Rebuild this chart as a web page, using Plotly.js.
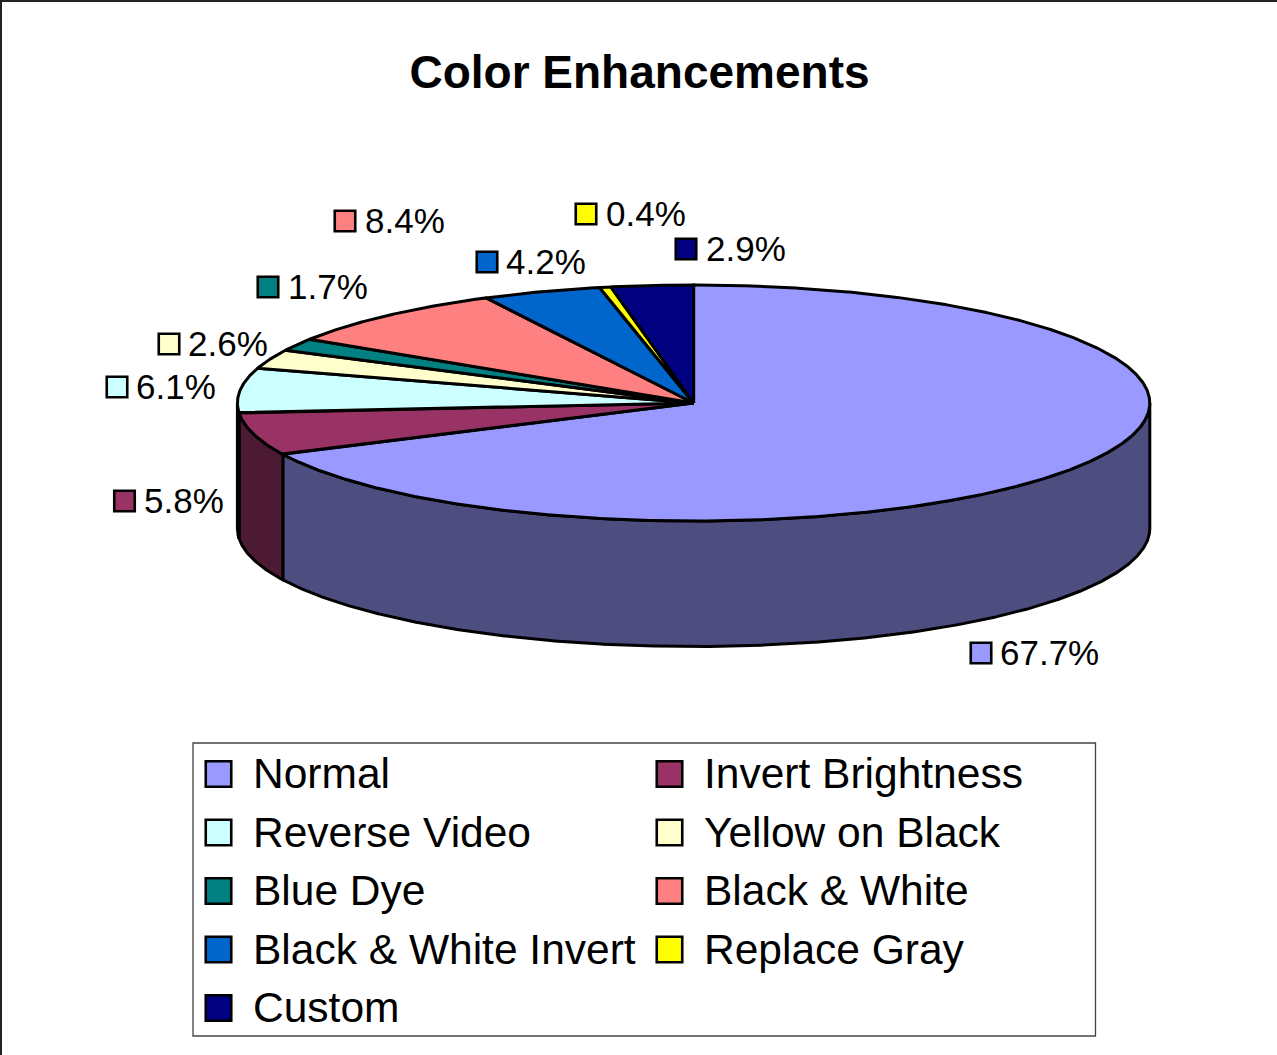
<!DOCTYPE html>
<html>
<head>
<meta charset="utf-8">
<script src="https://cdn.plot.ly/plotly-3.0.1.min.js"></script>
<style>html,body{margin:0;padding:0;background:#fff;overflow:hidden}#chart{width:1277px;height:1055px}</style>
</head>
<body>
<div id="chart"></div>
<script>
// Data
const categories = ["Normal","Invert Brightness","Reverse Video","Yellow on Black","Blue Dye","Black & White","Black & White Invert","Replace Gray","Custom"];
const percents = [67.7,5.8,6.1,2.6,1.7,8.4,4.2,0.4,2.9];
const topColors = ["#9999FF","#993366","#CCFFFF","#FFFFCC","#008080","#FF8080","#0066CC","#FFFF00","#000080"];
const sideColors = ["#4D4D80","#4D1A33","#668080","#808066","#004040","#804040","#003366","#808000","#000040"];
const chartTitle = "Color Enhancements";

// Layout of the drawing (chart space = pixels of the picture)
const cx = 693.6, cy = 403, rx = 456.2, ry = 118, depth = 125.5;
const labelKeyX = [981,124.5,117,169,268,345,487,586,686];
const labelKeyY = [653,501,387,344,287,221,262,214,249];
const labelTextX = [999,143,135,187,287,364,505,605,705];
const legendX = [218.5,669.5];
const legendTextX = [251.5,702.5];
const legendY = [774,832.5,891,949.5,1008];

const OUT = 3;
const px = a => cx + rx*Math.sin(a*Math.PI/180);
const py = a => cy - ry*Math.cos(a*Math.PI/180);
function arc(a0,a1,dy){
  const xs=[],ys=[];
  const n=Math.max(2,Math.ceil(Math.abs(a1-a0)*4));
  for(let i=0;i<=n;i++){const a=a0+(a1-a0)*i/n;xs.push(px(a));ys.push(py(a)+dy);}
  return [xs,ys];
}
const total = percents.reduce((s,v)=>s+v,0);
const traces=[];
let start=0;
const wedges=percents.map(v=>{const w=[start,start+v/total*360];start=w[1];return w;});

// side wall (front half of the disc only)
wedges.forEach((w,i)=>{
  const a0=Math.max(w[0],90), a1=Math.min(w[1],270);
  if(a1<=a0) return;
  const t=arc(a0,a1,0), b=arc(a1,a0,depth);
  traces.push({type:"scatter",mode:"lines",fill:"toself",fillcolor:sideColors[i],
    x:t[0].concat(b[0],[t[0][0]]),y:t[1].concat(b[1],[t[1][0]]),
    line:{color:"#000",width:OUT,shape:"linear"},name:categories[i],hoverinfo:"name",showlegend:false});
});
// top slices
wedges.forEach((w,i)=>{
  const t=arc(w[0],w[1],0);
  traces.push({type:"scatter",mode:"lines",fill:"toself",fillcolor:topColors[i],
    x:[cx].concat(t[0],[cx]),y:[cy].concat(t[1],[cy]),
    line:{color:"#000",width:OUT},name:categories[i],hoverinfo:"name",showlegend:false});
});
// label keys
traces.push({type:"scatter",mode:"markers",x:labelKeyX,y:labelKeyY,hoverinfo:"skip",showlegend:false,
  marker:{symbol:"square",size:20.5,color:topColors,line:{color:"#000",width:2.6}}});
// legend keys
const lgX=categories.map((c,i)=>legendX[i%2]);
const lgY=categories.map((c,i)=>legendY[Math.floor(i/2)]);
traces.push({type:"scatter",mode:"markers",x:lgX,y:lgY,hoverinfo:"skip",showlegend:false,
  marker:{symbol:"square",size:25.5,color:topColors,line:{color:"#000",width:2.6}}});

const font="Liberation Sans, Arial, sans-serif";
const annotations=[];
percents.forEach((v,i)=>annotations.push({xref:"x",yref:"y",x:labelTextX[i],y:labelKeyY[i]-1,text:v.toFixed(1)+"%",
  showarrow:false,xanchor:"left",yanchor:"middle",xshift:-1,font:{family:font,size:35,color:"#000"}}));
categories.forEach((c,i)=>annotations.push({xref:"x",yref:"y",x:legendTextX[i%2],y:lgY[i]-0.5,text:c.replace("&","&amp;"),
  showarrow:false,xanchor:"left",yanchor:"middle",xshift:-1,font:{family:font,size:42.5,color:"#000"}}));

const layout={
  width:1277,height:1055,margin:{l:0,r:0,t:0,b:0},paper_bgcolor:"#fff",plot_bgcolor:"#fff",showlegend:false,
  title:{text:"<b>"+chartTitle+"</b>",x:639.5/1277,xanchor:"center",y:1-72/1055,yanchor:"middle",xref:"paper",yref:"paper",
    font:{family:font,size:46,color:"#000"}},
  xaxis:{range:[0,1277],visible:false,fixedrange:true},
  yaxis:{range:[1055,0],visible:false,fixedrange:true},
  shapes:[
    {type:"rect",layer:"below",xref:"x",yref:"y",x0:193,x1:1095.5,y0:743,y1:1036,line:{color:"#444",width:1.3},fillcolor:"#fff"},
    {type:"line",layer:"below",xref:"x",yref:"y",x0:1,x1:1277,y0:1,y1:1,line:{color:"#222",width:2}},
    {type:"line",layer:"below",xref:"x",yref:"y",x0:1,x1:1,y0:0,y1:1055,line:{color:"#222",width:2}}
  ],
  annotations
};
Plotly.newPlot("chart",traces,layout,{displayModeBar:false,staticPlot:true});
</script>
</body>
</html>
